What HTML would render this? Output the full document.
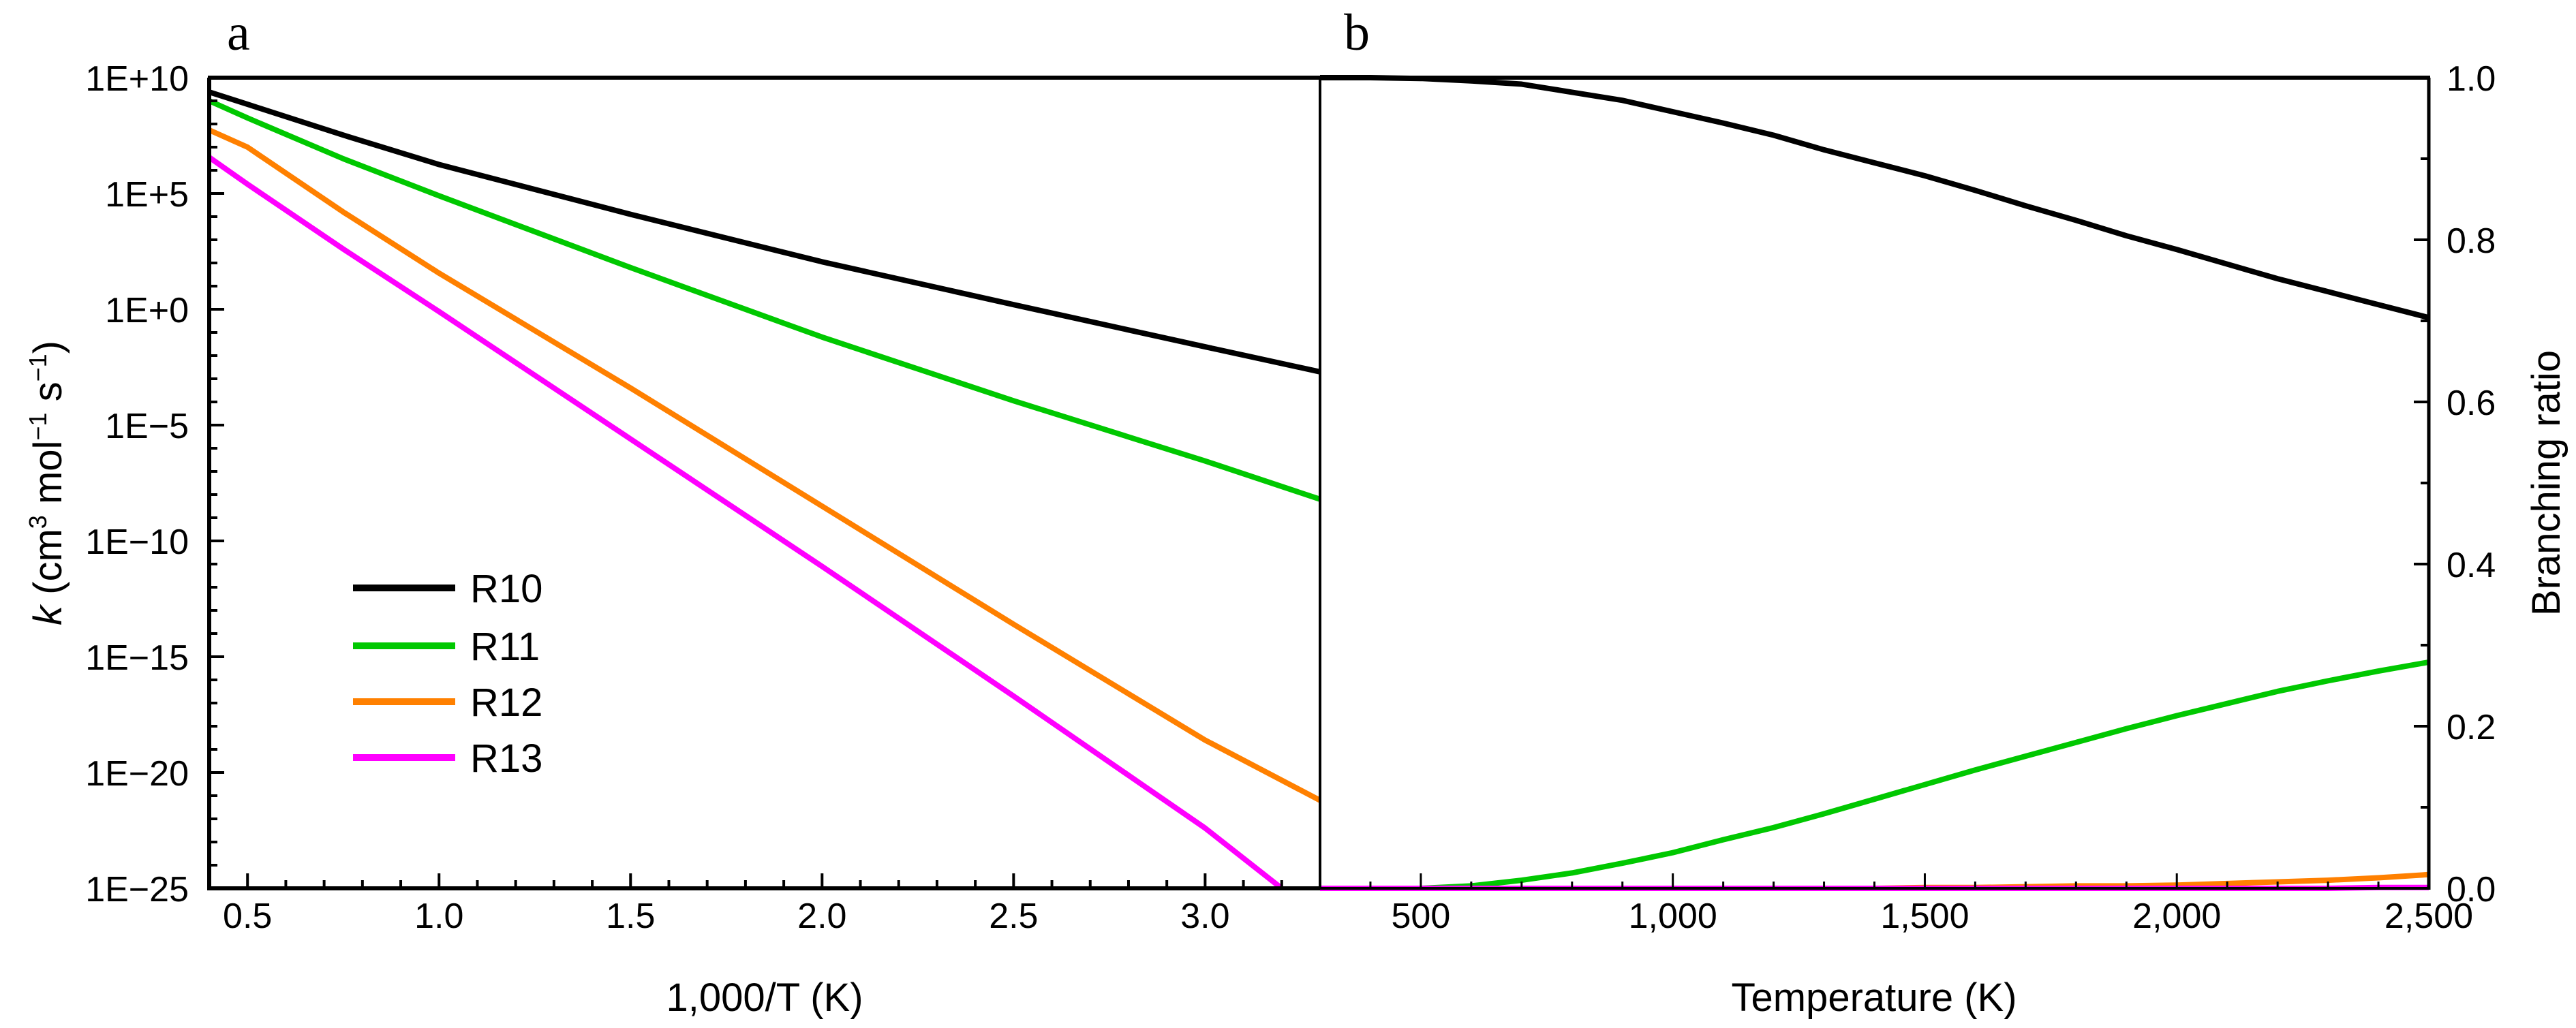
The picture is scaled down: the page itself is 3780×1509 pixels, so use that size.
<!DOCTYPE html>
<html><head><meta charset="utf-8"><style>
html,body{margin:0;padding:0;background:#fff;}
svg{display:block;font-family:"Liberation Sans",Arial,sans-serif;}
</style></head><body>
<svg id="chart" xmlns="http://www.w3.org/2000/svg" width="3780" height="1509" viewBox="0 0 3780 1509">
<g id="gA"></g>
<g id="gB"></g>
</svg>
<script>
// Panel a data: log10 k vs 1000/T
const aX = [0.4,0.5,0.75,1.0,1.5,2.0,2.5,3.0,3.3];
const aY_R10 = [9.38,8.85,7.52,6.25,4.1,2.05,0.2,-1.62,-2.7];
const aY_R11 = [9.0,8.26,6.5,4.9,1.8,-1.2,-3.95,-6.55,-8.2];
const aY_R12 = [7.74,7.0,4.2,1.56,-3.4,-8.5,-13.6,-18.6,-21.2];
const aX_R13 = [0.4,0.5,0.75,1.0,1.5,2.0,2.5,3.0,3.2];
const aY_R13 = [6.56,5.4,2.6,-0.1,-5.6,-11.1,-16.7,-22.4,-25];
const aXTicks = [0.5,1.0,1.5,2.0,2.5,3.0];
const aXTickLabels = ["0.5","1.0","1.5","2.0","2.5","3.0"];
const aYTicks = [10,5,0,-5,-10,-15,-20,-25];
const aYTickLabels = ["1E+10","1E+5","1E+0","1E\u22125","1E\u221210","1E\u221215","1E\u221220","1E\u221225"];
// Panel b data: branching ratio vs T
const bT = [300,400,500,600,700,800,900,1000,1100,1200,1300,1400,1500,1600,1700,1800,1900,2000,2100,2200,2300,2400,2500];
const bR10 = [1.0,1.0,0.999,0.996,0.992,0.982,0.972,0.958,0.944,0.929,0.911,0.895,0.879,0.861,0.842,0.824,0.805,0.788,0.770,0.752,0.736,0.720,0.704];
const bR11 = [0,0,0,0.003,0.010,0.019,0.031,0.044,0.060,0.075,0.092,0.110,0.128,0.146,0.163,0.180,0.197,0.213,0.228,0.243,0.256,0.268,0.279];
const bR12 = [0,0,0,0,0,0,0,0,0,0,0,0,0.001,0.001,0.002,0.003,0.003,0.004,0.006,0.008,0.010,0.013,0.017];
const bR13 = [0,0,0,0,0,0,0,0,0,0,0,0,0,0,0,0,0,0,0,0,0,0.001,0.001];
const bXTicks = [500,1000,1500,2000,2500];
const bXTickLabels = ["500","1,000","1,500","2,000","2,500"];
const bYTicks = [0,0.2,0.4,0.6,0.8,1.0];
const bYTickLabels = ["0.0","0.2","0.4","0.6","0.8","1.0"];
const seriesNames = ["R10","R11","R12","R13"];
const seriesColors = ["#000000","#00c800","#ff8000","#ff00ff"];

const NS = "http://www.w3.org/2000/svg";
const L=307, M=1937, R=3564, T=114, B=1304;
const ax = v => L + (v-0.4)/(3.3-0.4)*(M-L);
const ay = v => T + (10-v)/35*(B-T);
const bx = v => M + (v-300)/(2500-300)*(R-M);
const by = v => B - v*(B-T);
function el(tag, attrs, parent){const e=document.createElementNS(NS,tag);for(const k in attrs)e.setAttribute(k,attrs[k]);parent.appendChild(e);return e;}
const gA=document.getElementById('gA'), gB=document.getElementById('gB');

[[aX,aY_R10],[aX,aY_R11],[aX,aY_R12],[aX_R13,aY_R13]].forEach((s,i)=>{
  const p=el('polyline',{points:s[0].map((x,j)=>ax(x)+','+ay(s[1][j])).join(' '),fill:'none',stroke:seriesColors[i],'stroke-width':8,'stroke-linejoin':'round'},gA);
  
  
});
[bR10,bR11,bR12,bR13].forEach((s,i)=>{
  const p=el('polyline',{points:bT.map((t,j)=>bx(t)+','+by(s[j])).join(' '),fill:'none',stroke:seriesColors[i],'stroke-width':8,'stroke-linejoin':'round'},gB);
  
  
});

el('line',{x1:L-2,y1:T,x2:R+2,y2:T,stroke:'#000','stroke-width':6},gA);
el('line',{x1:L,y1:T,x2:L,y2:B+3,stroke:'#000','stroke-width':6},gA);
el('line',{x1:L-3,y1:B,x2:M,y2:B,stroke:'#000','stroke-width':6},gA);
el('line',{x1:M,y1:T,x2:M,y2:B,stroke:'#000','stroke-width':4},gB);
el('line',{x1:M,y1:B,x2:R,y2:B,stroke:'#000','stroke-width':4},gB);
el('line',{x1:R,y1:T,x2:R,y2:B+2,stroke:'#000','stroke-width':5},gB);

for(let v=0.5;v<=3.21;v+=0.1){const vv=Math.round(v*10)/10;const maj=Math.abs(vv*2-Math.round(vv*2))<1e-6;
  el('line',{x1:ax(vv),y1:B,x2:ax(vv),y2:B-(maj?22:12),stroke:'#000','stroke-width':4},gA);}
aXTicks.forEach((v,i)=>{const t=el('text',{x:ax(v),y:1362,'font-size':52,'text-anchor':'middle'},gA);t.textContent=aXTickLabels[i];
  });
for(let d=9;d>=-25;d--){const maj=d%5===0;el('line',{x1:L,y1:ay(d),x2:L+(maj?22:12),y2:ay(d),stroke:'#000','stroke-width':4},gA);}
aYTicks.forEach((v,i)=>{const t=el('text',{x:277,y:ay(v)+19,'font-size':52,'text-anchor':'end'},gA);t.textContent=aYTickLabels[i];
  });
for(let v=400;v<=2400;v+=100){const maj=v%500===0;el('line',{x1:bx(v),y1:B,x2:bx(v),y2:B-(maj?22:10),stroke:'#000','stroke-width':3},gB);}
bXTicks.forEach((v,i)=>{const t=el('text',{x:bx(v),y:1362,'font-size':52,'text-anchor':'middle'},gB);t.textContent=bXTickLabels[i];
  });
for(let k=1;k<10;k++){const v=k/10;const maj=k%2===0;el('line',{x1:R,y1:by(v),x2:R-(maj?22:12),y2:by(v),stroke:'#000','stroke-width':4},gB);}
bYTicks.forEach((v,i)=>{const t=el('text',{x:3590,y:by(v)+19,'font-size':52,'text-anchor':'start'},gB);t.textContent=bYTickLabels[i];
  });

const legY=[863,948,1030,1112];
seriesNames.forEach((n,i)=>{
  const ln=el('line',{x1:518,y1:legY[i],x2:668,y2:legY[i],stroke:seriesColors[i],'stroke-width':10},gA);
  
  
  const t=el('text',{x:690,y:legY[i]+21,'font-size':58},gA);t.textContent=n;
  
  
});
</script>
<svg style="position:absolute;left:0;top:0" width="3780" height="1509">
<text x="333" y="73" font-family="Liberation Serif,serif" font-size="76">a</text>
<text x="1972" y="73" font-family="Liberation Serif,serif" font-size="76">b</text>
<text x="1122" y="1484" font-size="58" text-anchor="middle" font-family="Liberation Sans,sans-serif">1,000/T (K)</text>
<text x="2750" y="1484" font-size="58" text-anchor="middle" font-family="Liberation Sans,sans-serif">Temperature (K)</text>
<text transform="translate(90,709) rotate(-90)" font-size="58" text-anchor="middle" font-family="Liberation Sans,sans-serif"><tspan font-style="italic">k</tspan> (cm<tspan font-size="36" dy="-22">3</tspan><tspan dy="22"> mol</tspan><tspan font-size="36" dy="-22">−1</tspan><tspan dy="22"> s</tspan><tspan font-size="36" dy="-22">−1</tspan><tspan dy="22">)</tspan></text>
<text transform="translate(3756,709) rotate(-90)" font-size="58" text-anchor="middle" font-family="Liberation Sans,sans-serif">Branching ratio</text>
</svg>
</body></html>
